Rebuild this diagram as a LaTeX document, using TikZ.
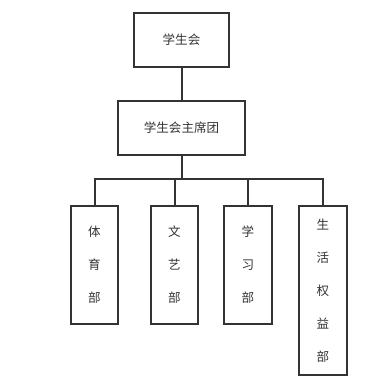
\documentclass[tikz,border=0pt]{standalone}
\usepackage{fontspec}
\newfontfamily\cjk{Noto Sans CJK SC}
\definecolor{boxline}{HTML}{333333}
\tikzset{
  orgbox/.style={draw=boxline,line width=1.5pt,text=boxline,inner sep=0pt,
    font=\cjk\fontsize{9.4}{24.75}\selectfont,align=center},
  orgline/.style={draw=boxline,line width=1.5pt}
}
\begin{document}
\begin{tikzpicture}[x=0.75pt,y=-0.75pt,line join=miter]
  \useasboundingbox (0,0) rectangle (379,386);
  % top levels
  \node[orgbox,minimum width=71.25pt,minimum height=40.5pt] (hui) at (181.5,40) {学生会};
  \node[orgbox,minimum width=95.25pt,minimum height=40.5pt] (zxt) at (181.5,128) {学生会主席团};
  \coordinate (bus) at (181.5,179);
  % departments
  \node[orgbox,minimum width=35.25pt,minimum height=88.5pt] (ty) at (94.5,265) {体\\育\\部};
  \node[orgbox,minimum width=35.25pt,minimum height=88.5pt] (wy) at (174.5,265) {文\\艺\\部};
  \node[orgbox,minimum width=36pt,minimum height=88.5pt] (xx) at (248,265) {学\\习\\部};
  \node[orgbox,minimum width=36pt,minimum height=126.75pt] (sh) at (323,290.5) {生\\活\\权\\益\\部};
  % connectors
  \draw[orgline] (hui) -- (zxt);
  \draw[orgline] (zxt) -- (bus);
  \draw[orgline] (bus) -| (ty.north);
  \draw[orgline] (bus) -| (wy.north);
  \draw[orgline] (bus) -| (xx.north);
  \draw[orgline] (bus) -| (sh.north);
\end{tikzpicture}
\end{document}
